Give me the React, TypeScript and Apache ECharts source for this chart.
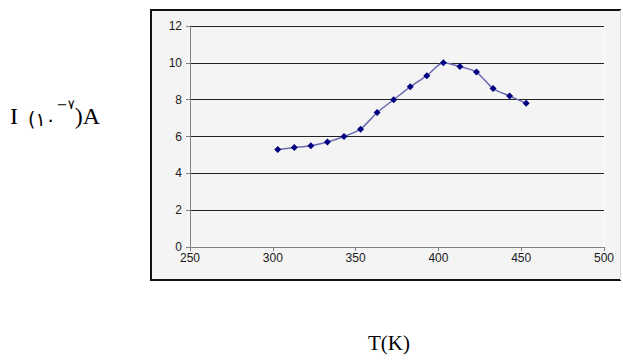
import React, { useEffect, useRef } from "react";
import * as echarts from "echarts";

const temperatures = [303, 313, 323, 333, 343, 353, 363, 373, 383, 393, 403, 413, 423, 433, 443, 453];
const currents = [5.3, 5.4, 5.5, 5.7, 6.0, 6.4, 7.3, 8.0, 8.7, 9.3, 10.0, 9.8, 9.5, 8.6, 8.2, 7.8];
const xTicks = { min: 250, max: 500, interval: 50 };
const yTicks = { min: 0, max: 12, interval: 2 };
const xLabel = "T(K)";

export default function App() {
  const ref = useRef<HTMLDivElement>(null);
  useEffect(() => {
    const chart = echarts.init(ref.current!, null, { renderer: "svg" });
    const data = temperatures.map((t, i) => [t, currents[i]]);
    chart.setOption({
      animation: false,
      backgroundColor: "#ffffff",
      graphic: [
        { type: "rect", z: -10, shape: { x: 150, y: 10, width: 471, height: 270 }, style: { fill: "#f4f4f4" } },
        { type: "line", z: -5, shape: { x1: 150, y1: 10, x2: 621, y2: 10 }, style: { stroke: "#111", lineWidth: 2 } },
        { type: "line", z: -5, shape: { x1: 151, y1: 10, x2: 151, y2: 280 }, style: { stroke: "#111", lineWidth: 2 } },
        { type: "line", z: -5, shape: { x1: 150, y1: 280, x2: 621, y2: 280 }, style: { stroke: "#111", lineWidth: 2 } },
        { type: "line", z: -5, shape: { x1: 620.5, y1: 10, x2: 620.5, y2: 280 }, style: { stroke: "#d8d8d8", lineWidth: 1 } },
        {
          type: "text",
          left: 10,
          top: 98,
          style: {
            text: "{a|I }{b|(١٠}{s|−٧}{a|)A}",
            rich: {
              a: { fontFamily: "Liberation Serif", fontSize: 24, fill: "#000", verticalAlign: "bottom", lineHeight: 30 },
              b: { fontFamily: "DejaVu Sans", fontSize: 19, fill: "#000", verticalAlign: "bottom", lineHeight: 26, padding: [0, 1, 0, 4] },
              s: { fontFamily: "DejaVu Sans", fontSize: 13, fill: "#000", verticalAlign: "top", lineHeight: 16 },
            },
          },
        },
        {
          type: "text",
          left: 368,
          top: 332,
          style: { text: xLabel, fontFamily: "Liberation Serif", fontSize: 21, fill: "#000" },
        },
      ],
      grid: { left: 190, right: 19, top: 26, bottom: 113, show: true, borderColor: "#ffffff", borderWidth: 1, backgroundColor: "#f4f4f4" },
      xAxis: {
        type: "value",
        min: xTicks.min,
        max: xTicks.max,
        interval: xTicks.interval,
        axisLine: { show: true, onZero: false, lineStyle: { color: "#808080", width: 1 } },
        axisTick: { show: true, length: 4, lineStyle: { color: "#808080" } },
        axisLabel: { color: "#1a1a1a", fontFamily: "Liberation Sans", fontSize: 12, margin: 5 },
        splitLine: { show: false },
      },
      yAxis: {
        type: "value",
        min: yTicks.min,
        max: yTicks.max,
        interval: yTicks.interval,
        axisLine: { show: true, lineStyle: { color: "#808080", width: 1 } },
        axisTick: { show: true, length: 4, lineStyle: { color: "#808080" } },
        axisLabel: { color: "#1a1a1a", fontFamily: "Liberation Sans", fontSize: 12, margin: 8 },
        splitLine: { show: true, lineStyle: { color: "#222", width: 1 } },
      },
      series: [
        {
          type: "line",
          data,
          smooth: 0.25,
          symbol: "diamond",
          symbolSize: 7,
          lineStyle: { color: "#6b6bb0", width: 1.5 },
          itemStyle: { color: "#000080" },
        },
      ],
    });
    return () => chart.dispose();
  }, []);
  return <div ref={ref} style={{ position: "absolute", left: 0, top: 0, width: 623, height: 360 }} />;
}
